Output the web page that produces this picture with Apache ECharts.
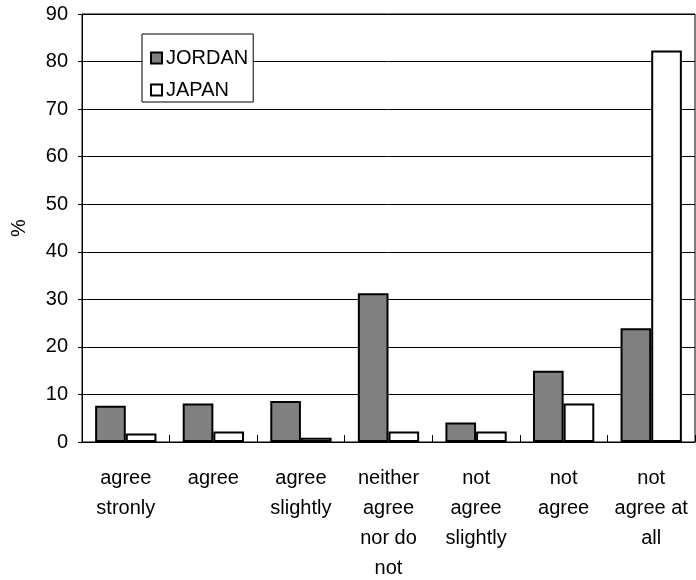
<!DOCTYPE html>
<html><head><meta charset="utf-8">
<script src="https://cdn.jsdelivr.net/npm/echarts@6/dist/echarts.min.js"></script>
<style>html,body{margin:0;padding:0;background:#fff}#c{width:696px;height:580px}</style>
</head><body><div id="c"></div>
<script>
const categories = ["agree\nstronly", "agree", "agree\nslightly", "neither\nagree\nnor do\nnot", "not\nagree\nslightly", "not\nagree", "not\nagree at\nall"];
const jordan = [7.6, 8.1, 8.6, 31.3, 4.1, 15.0, 23.9];
const japan = [1.8, 2.2, 0.9, 2.2, 2.2, 8.1, 82.3];
const yTicks = [0, 10, 20, 30, 40, 50, 60, 70, 80, 90];

const font = 'Liberation Sans, Arial, sans-serif';
const chart = echarts.init(document.getElementById('c'), null, {renderer: 'canvas'});
chart.setOption({
  animation: false,
  backgroundColor: '#fff',
  textStyle: {fontFamily: font, color: '#000'},
  grid: {left: 82, top: 14, right: 1, bottom: 138, show: true, borderColor: '#000', borderWidth: 1,
         containLabel: false, outerBoundsMode: 'none'},
  legend: {
    orient: 'vertical', left: 142, top: 34,
    backgroundColor: '#fff', borderColor: '#000', borderWidth: 1,
    padding: [14, 5, 2, 8], itemGap: 12, itemWidth: 11, itemHeight: 11,
    icon: 'rect',
    textStyle: {fontFamily: font, fontSize: 20, color: '#000', padding: [0, 0, 0, -1]},
    data: ['JORDAN', 'JAPAN']
  },
  xAxis: {
    type: 'category', data: categories,
    axisLine: {lineStyle: {color: '#000', width: 1}},
    axisTick: {show: true, inside: true, length: 7, lineStyle: {color: '#000'}},
    axisLabel: {fontFamily: font, fontSize: 20, color: '#000', lineHeight: 30, margin: 21, interval: 0}
  },
  yAxis: {
    type: 'value', min: yTicks[0], max: yTicks[yTicks.length - 1], interval: 10,
    name: '%', nameLocation: 'middle', nameGap: 53, nameRotate: 90,
    nameTextStyle: {fontFamily: font, fontSize: 20, color: '#000'},
    axisLine: {show: true, lineStyle: {color: '#000', width: 1}},
    axisTick: {show: true, length: 4, lineStyle: {color: '#000'}},
    axisLabel: {fontFamily: font, fontSize: 20, color: '#000', margin: 14},
    splitLine: {show: true, lineStyle: {color: '#000', width: 1}}
  },
  series: [
    {name: 'JORDAN', type: 'bar', data: jordan, barWidth: '35%', barGap: '0%',
     itemStyle: {color: '#808080', borderColor: '#000', borderWidth: 2}},
    {name: 'JAPAN', type: 'bar', data: japan, barWidth: '35%', barGap: '0%',
     itemStyle: {color: '#fff', borderColor: '#000', borderWidth: 2}}
  ]
});
</script></body></html>
